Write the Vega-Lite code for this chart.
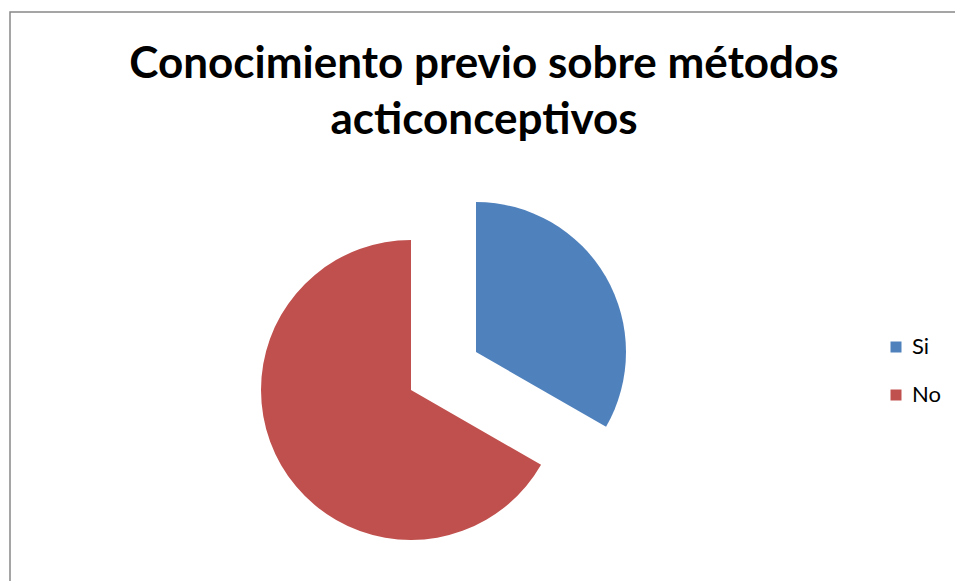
{
  "$schema": "https://vega.github.io/schema/vega-lite/v6.json",
  "width": 1000,
  "height": 620,
  "autosize": {"type": "none"},
  "padding": {"left": 10, "top": 12, "right": 0, "bottom": 0},
  "background": "white",
  "view": {"stroke": "#888888", "strokeWidth": 1.5, "fill": "white"},
  "config": {
    "view": {"stroke": "#888888", "strokeWidth": 1.5},
    "font": "Lato"
  },
  "title": {
    "text": ["Conocimiento previo sobre métodos", "acticonceptivos"],
    "font": "Lato",
    "fontSize": 44,
    "fontWeight": "bold",
    "color": "#000000",
    "anchor": "middle",
    "orient": "top",
    "baseline": "alphabetic",
    "lineHeight": 56,
    "offset": 0,
    "dx": -26,
    "dy": 166
  },
  "data": {
    "values": [
      {"respuesta": "Si", "valor": 33.3},
      {"respuesta": "No", "valor": 66.7}
    ]
  },
  "transform": [
    {
      "stack": "valor",
      "groupby": [],
      "sort": [{"field": "respuesta", "order": "descending"}],
      "as": ["v0", "v1"]
    }
  ],
  "layer": [
    {
      "transform": [{"filter": "datum.respuesta === 'Si'"}],
      "mark": {"type": "arc", "outerRadius": 150, "xOffset": -34, "yOffset": 30},
      "encoding": {
        "theta": {"field": "v0", "type": "quantitative", "scale": {"domain": [0, 100]}},
        "theta2": {"field": "v1"},
        "color": {
          "field": "respuesta",
          "type": "nominal",
          "scale": {"domain": ["Si", "No"], "range": ["#4F81BD", "#C0504D"]},
          "legend": {
            "title": null,
            "orient": "none",
            "legendX": 875,
            "legendY": 324,
            "padding": 0,
            "symbolType": "square",
            "symbolSize": 121,
            "symbolStrokeWidth": 0,
            "labelFont": "Lato",
            "labelFontSize": 22,
            "labelColor": "#000000",
            "labelOffset": 5,
            "rowPadding": 26
          }
        }
      }
    },
    {
      "transform": [{"filter": "datum.respuesta === 'No'"}],
      "mark": {"type": "arc", "outerRadius": 150, "xOffset": -99, "yOffset": 68},
      "encoding": {
        "theta": {"field": "v0", "type": "quantitative", "scale": {"domain": [0, 100]}},
        "theta2": {"field": "v1"},
        "color": {"field": "respuesta", "type": "nominal"}
      }
    }
  ]
}
